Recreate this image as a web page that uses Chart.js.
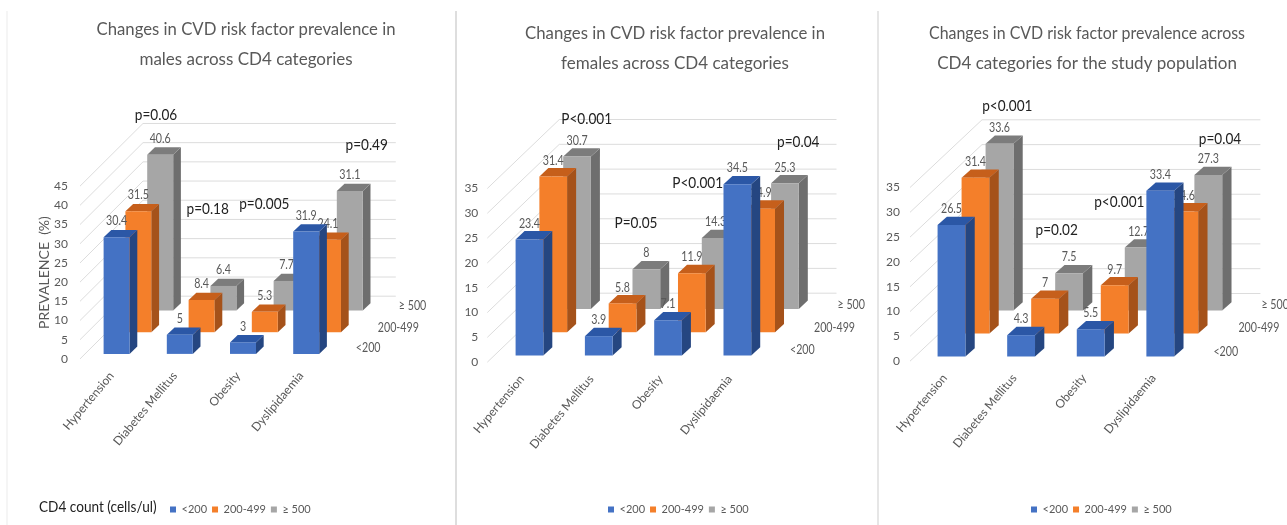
<!DOCTYPE html>
<html>
<head>
<meta charset="utf-8">
<title>CVD risk factors by CD4 category</title>
<script src="https://cdn.jsdelivr.net/npm/chart.js@4/dist/chart.umd.min.js"></script>
<style>
  html, body { margin: 0; padding: 0; background: #fff; overflow: hidden; }
  #page { position: relative; width: 1287px; height: 525px; overflow: hidden; }
  .panel { position: absolute; top: 0; height: 525px; }
  .divider { position: absolute; top: 11px; bottom: 0; width: 2px; background: #dedede; }
</style>
</head>
<body>
<div id="page">
  <div class="divider" style="left:6px;background:#f5f5f5"></div>
  <div class="divider" style="left:455px"></div>
  <div class="divider" style="left:877px;background:#e6e6e6"></div>
  <div class="panel" style="left:0;width:455px"><canvas id="males"></canvas></div>
  <div class="panel" style="left:457px;width:420px"><canvas id="females"></canvas></div>
  <div class="panel" style="left:879px;width:408px"><canvas id="everyone"></canvas></div>
</div>
<script>
const categories = ['Hypertension', 'Diabetes Mellitus', 'Obesity', 'Dyslipidaemia'];
const cd4Groups = ['<200', '200-499', '\u2265 500'];

const maleLow = [30.4, 5, 3, 31.9];
const maleMid = [31.5, 8.4, 5.3, 24.1];
const maleHigh = [40.6, 6.4, 7.7, 31.1];
const maleP = ['p=0.06', 'p=0.18', 'p=0.005', 'p=0.49'];

const femaleLow = [23.4, 3.9, 7.1, 34.5];
const femaleMid = [31.4, 5.8, 11.9, 24.9];
const femaleHigh = [30.7, 8, 14.3, 25.3];
const femaleP = ['P<0.001', 'P=0.05', 'P<0.001', 'p=0.04'];

const allLow = [26.5, 4.3, 5.5, 33.4];
const allMid = [31.4, 7, 9.7, 24.6];
const allHigh = [33.6, 7.5, 12.7, 27.3];
const allP = ['p<0.001', 'p=0.02', 'p<0.001', 'p=0.04'];

const maleTitle = ['Changes in CVD risk factor prevalence in', 'males across CD4 categories'];
const femaleTitle = ['Changes in CVD risk factor prevalence in', 'females across CD4 categories'];
const allTitle = ['Changes in CVD risk factor prevalence across', 'CD4 categories for the study population'];

// front, top and side colours of each depth row
const faces = [
  { front: '#4472c4', top: '#2b57a6', side: '#254681' },
  { front: '#f47f2a', top: '#c65f1b', side: '#a5521a' },
  { front: '#a6a6a6', top: '#7c7c7c', side: '#6e6e6e' }
];

const FONT = 'Lato, sans-serif';
const GREY_TEXT = '#595959';
const LEGEND_PAD = 5;
const LEGEND_SIZE = 11;
const LEGEND_HEIGHT = LEGEND_SIZE * 1.2 + LEGEND_PAD + 10;

// Lato runs wide here, squeeze the hand drawn labels a bit
function narrowText(ctx, text, x, y, squeeze) {
  ctx.fillText(text, x, y, ctx.measureText(text).width * squeeze);
}

// pseudo 3d: a bar row is shifted back by start + row * step, and has a cap of depth cap
const bars3d = {
  id: 'bars3d',
  beforeDatasetsDraw(chart, args, o) {
    const { ctx, chartArea: a, scales: { y } } = chart;
    ctx.save();
    ctx.strokeStyle = '#dcdcdc';
    ctx.lineWidth = 1;
    y.ticks.forEach((t) => {
      const py = y.getPixelForValue(t.value);
      ctx.beginPath();
      ctx.moveTo(a.left, py);
      ctx.lineTo(a.left + o.wall[0], py - o.wall[1]);
      ctx.lineTo(a.right + o.wall[0], py - o.wall[1]);
      ctx.stroke();
    });
    ctx.restore();
  },
  beforeDatasetDraw(chart, args, o) {
    const { ctx } = chart;
    const row = args.index;
    const colours = faces[row];
    ctx.save();
    ctx.translate(o.start[0] + row * o.step[0], -(o.start[1] + row * o.step[1]));
    args.meta.data.forEach((el) => {
      const { x, y, base, width } = el.getProps(['x', 'y', 'base', 'width'], true);
      const l = x - width / 2;
      const r = x + width / 2;
      ctx.fillStyle = colours.side;
      ctx.beginPath();
      ctx.moveTo(r, y);
      ctx.lineTo(r + o.cap[0], y - o.cap[1]);
      ctx.lineTo(r + o.cap[0], base - o.cap[1]);
      ctx.lineTo(r, base);
      ctx.closePath();
      ctx.fill();
      ctx.fillStyle = colours.top;
      ctx.beginPath();
      ctx.moveTo(l, y);
      ctx.lineTo(l + o.cap[0], y - o.cap[1]);
      ctx.lineTo(r + o.cap[0], y - o.cap[1]);
      ctx.lineTo(r, y);
      ctx.closePath();
      ctx.fill();
    });
  },
  afterDatasetDraw(chart, args) {
    const { ctx } = chart;
    const values = chart.data.datasets[args.index].data;
    ctx.fillStyle = GREY_TEXT;
    ctx.font = '13px ' + FONT;
    ctx.textAlign = 'center';
    ctx.textBaseline = 'middle';
    args.meta.data.forEach((el, i) => {
      const { x, y } = el.getProps(['x', 'y'], true);
      narrowText(ctx, String(values[i]), x, y - 16, 0.82);
    });
    ctx.restore();
  },
  afterDatasetsDraw(chart, args, o) {
    const { ctx, chartArea: a, canvas } = chart;
    const offset = canvas.parentNode.offsetLeft;
    ctx.save();
    ctx.textBaseline = 'middle';
    ctx.fillStyle = GREY_TEXT;
    ctx.font = '13px ' + FONT;
    ctx.textAlign = 'left';
    cd4Groups.forEach((g, i) => {
      narrowText(ctx, g, a.right + o.rowLabels[i][0], a.bottom + o.rowLabels[i][1], 0.82);
    });
    ctx.fillStyle = '#222';
    ctx.font = '16px ' + FONT;
    ctx.textAlign = 'center';
    o.pValues.forEach((p, i) => {
      narrowText(ctx, p, o.pSpots[i][0] - offset, o.pSpots[i][1], 0.85);
    });
    if (o.caption) {
      ctx.textAlign = 'left';
      ctx.font = '16px ' + FONT;
      narrowText(ctx, o.caption, 39 - offset, 507, 0.85);
    }
    ctx.restore();
  },
  beforeDraw(chart, args, o) {
    const offset = chart.canvas.parentNode.offsetLeft;
    // title and legend sit off centre, so they are moved by hand once layout is done
    const lg = chart.legend;
    const w = lg.right - lg.left;
    lg.left = o.legendX - offset - LEGEND_PAD;
    lg.right = lg.left + w;
    // the title block width also caps how wide a line may get
    chart.titleBlock.left = o.titleX - offset - o.titleWidth / 2;
    chart.titleBlock.right = o.titleX - offset + o.titleWidth / 2;
  }
};

function makeChart(id, low, mid, high, title, opts) {
  const canvas = document.getElementById(id);
  const panelLeft = canvas.parentNode.offsetLeft;
  const panelWidth = canvas.parentNode.offsetWidth;
  canvas.width = panelWidth;
  canvas.height = 525;
  const areaTop = opts.y0 - opts.yMax * opts.unit;
  const series = [low, mid, high];
  return new Chart(canvas, {
    type: 'bar',
    data: {
      labels: categories,
      datasets: series.map((values, i) => ({
        label: cd4Groups[i],
        data: values,
        backgroundColor: faces[i].front,
        borderWidth: 0,
        grouped: false,
        categoryPercentage: 1,
        barPercentage: opts.barShare,
        clip: false
      }))
    },
    options: {
      responsive: false,
      animation: false,
      events: [],
      layout: {
        padding: { left: 0, top: 0, bottom: 0, right: panelWidth - (opts.left - panelLeft) - opts.band * 4 }
      },
      scales: {
        x: {
          grid: { display: false, drawTicks: false },
          border: { display: false },
          afterFit: (s) => { s.height = 525 - LEGEND_HEIGHT - opts.y0; },
          ticks: {
            autoSkip: false,
            minRotation: 50,
            maxRotation: 50,
            padding: opts.labelGap,
            color: GREY_TEXT,
            font: { family: FONT, size: 12 }
          }
        },
        y: {
          min: 0,
          max: opts.yMax,
          grid: { display: false, drawTicks: false },
          border: { display: false },
          afterFit: (s) => { s.width = opts.left - panelLeft; },
          ticks: {
            stepSize: 5,
            padding: opts.tickGap,
            color: GREY_TEXT,
            font: { family: FONT, size: 12 }
          },
          title: opts.axisTitle ? {
            display: true,
            text: opts.axisTitle,
            color: GREY_TEXT,
            font: { family: FONT, size: 14 },
            padding: { top: 36, bottom: 0 }
          } : { display: false }
        }
      },
      plugins: {
        tooltip: { enabled: false },
        title: {
          display: true,
          text: title,
          color: GREY_TEXT,
          font: { family: FONT, size: 17, weight: 'normal', lineHeight: 1.765 },
          padding: { top: opts.titleTop, bottom: areaTop - opts.titleTop - 60 }
        },
        legend: {
          position: 'bottom',
          align: 'start',
          labels: {
            boxWidth: 6,
            boxHeight: 6,
            padding: LEGEND_PAD,
            color: GREY_TEXT,
            font: { family: FONT, size: LEGEND_SIZE }
          }
        },
        bars3d: opts
      }
    },
    plugins: [bars3d]
  });
}

makeChart('males', maleLow, maleMid, maleHigh, maleTitle, {
  left: 80, y0: 356.7, unit: 3.79, yMax: 45, band: 63.2, barShare: 0.411,
  start: [5, 5], step: [21.8, 21.7], cap: [7.7, 7.3], wall: [63, 62.7],
  labelGap: 10, tickGap: 12, titleTop: 15, titleX: 246, titleWidth: 299, legendX: 170,
  axisTitle: 'PREVALENCE  (%)', caption: 'CD4 count (cells/ul)',
  pValues: maleP,
  pSpots: [[156, 115], [207.7, 209.3], [264.3, 204.3], [366.7, 145]],
  rowLabels: [[23, -10.7], [45, -30.7], [66, -52.7]]
});

makeChart('females', femaleLow, femaleMid, femaleHigh, femaleTitle, {
  left: 487.3, y0: 360, unit: 4.9, yMax: 35, band: 69.3, barShare: 0.4,
  start: [7.5, 6.7], step: [23.8, 23.3], cap: [9, 8.3], wall: [72, 69],
  labelGap: 10, tickGap: 9, titleTop: 18.5, titleX: 675, titleWidth: 300, legendX: 608,
  pValues: femaleP,
  pSpots: [[586.7, 119.3], [636, 222.7], [697.7, 182.7], [798.3, 141.7]],
  rowLabels: [[25.5, -12], [49.5, -34.3], [73, -57]]
});

makeChart('everyone', allLow, allMid, allHigh, allTitle, {
  left: 910, y0: 359, unit: 4.9, yMax: 35, band: 69.6, barShare: 0.4,
  start: [6.7, 4.7], step: [24, 23], cap: [9.3, 8.3], wall: [72, 67.7],
  labelGap: 10, tickGap: 10, titleTop: 18.5, titleX: 1087, titleWidth: 316, legendX: 1031,
  pValues: allP,
  pSpots: [[1007.3, 106], [1056.7, 230], [1119.3, 202.3], [1220, 139]],
  rowLabels: [[25, -9], [50, -33], [73, -56]]
});
</script>
</body>
</html>
